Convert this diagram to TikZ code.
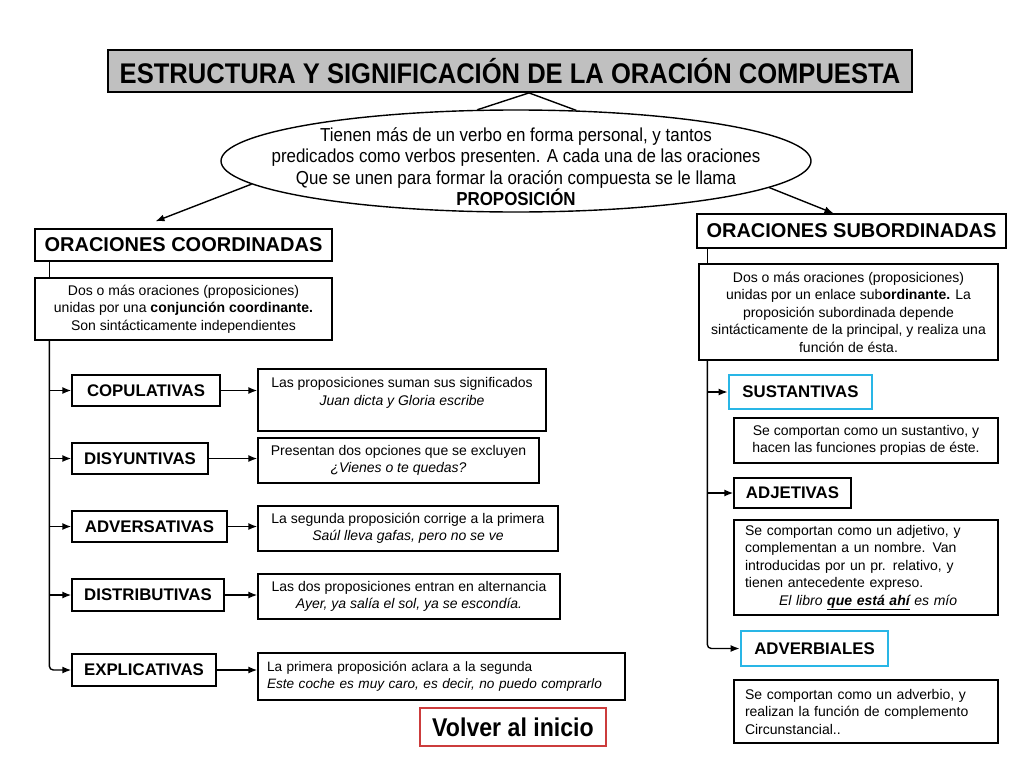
\documentclass[tikz,border=0pt]{standalone}
\usepackage{fontspec}
\setmainfont{Liberation Sans}
\newfontfamily\narrowfont[FakeStretch=0.9]{Liberation Sans}
\usetikzlibrary{arrows.meta,positioning,calc,shapes.geometric}
\definecolor{titgris}{RGB}{192,192,192}
\definecolor{celeste}{RGB}{41,182,230}
\definecolor{rojo}{RGB}{204,60,60}
\newcommand{\fs}[2]{\fontsize{#1}{#2}\selectfont}

\begin{document}
\begin{tikzpicture}[x=1pt, y=-1pt, line width=1.4pt, >={Latex[length=9pt,width=7pt]},
    titulo/.style={draw, fill=titgris, line width=1.8pt, inner sep=0pt, font=\narrowfont\bfseries\fs{28.4}{32}},
    globo/.style={draw, ellipse, align=center, inner xsep=-37pt, inner ysep=-13pt, font=\narrowfont\fs{18.8}{21.4}},
    cabeza/.style={draw, inner sep=0pt, font=\bfseries\fs{20}{24}},
    explica/.style={draw, align=center, inner sep=0pt, font=\fs{14}{17.5}},
    tipo/.style={draw, inner sep=0pt, font=\bfseries\fs{16.8}{20}},
    marcado/.style={tipo, draw=celeste, line width=2.8pt},
    ejemplo/.style={draw, align=center, inner sep=0pt, font=\fs{14}{17.5}}]
  \useasboundingbox (0,0) rectangle (1024,768);
  % ================================================================ title and definition
  \node[titulo, minimum width=804pt, minimum height=42pt] (titulo) at (510,71) {ESTRUCTURA Y SIGNIFICACIÓN DE LA ORACIÓN COMPUESTA};
  \node[globo, minimum width=590pt, minimum height=102pt] (globo) at (516,161) {\rule{0pt}{25pt}Tienen más de un verbo en forma personal, y tantos\\
     predicados como verbos presenten. A cada una de las oraciones\\
     Que se unen para formar la oración compuesta se le llama\\ \textbf{PROPOSICIÓN}};
  \draw (globo.127) -- ([xshift=19pt]titulo.south) -- (globo.40);
  % ================================================================ coordinadas (left)
  \node[cabeza, minimum width=297pt, minimum height=32pt] (coord) at (183.5,245) {ORACIONES COORDINADAS};
  \node[explica, minimum width=297pt, minimum height=62pt] (coorddef) at (183.5,309) {Dos o más oraciones (proposiciones)\\
     unidas por una \textbf{conjunción coordinante.}\\ Son sintácticamente independientes};
  \node[tipo, minimum width=148pt, minimum height=31pt] (copu) at (146,390.5) {COPULATIVAS};
  \node[tipo, minimum width=136pt, minimum height=31pt] (disy) at (140,458.5) {DISYUNTIVAS};
  \node[tipo, minimum width=155pt, minimum height=31pt] (adve) at (149.5,526.5) {ADVERSATIVAS};
  \node[tipo, minimum width=152pt, minimum height=32pt] (dist) at (148,595) {DISTRIBUTIVAS};
  \node[tipo, minimum width=144pt, minimum height=32pt] (expl) at (144,670) {EXPLICATIVAS};
  \node[ejemplo, minimum width=288pt, minimum height=62pt] (ejcopu) at (402,400) {Las proposiciones suman sus significados\\
     \textit{Juan dicta y Gloria escribe}\\ \mbox{}};
  \node[ejemplo, minimum width=281pt, minimum height=45pt] (ejdisy) at (398.5,460.5) {Presentan dos opciones que se excluyen\\
     \textit{¿Vienes o te quedas?}};
  \node[ejemplo, minimum width=300pt, minimum height=45pt] (ejadve) at (408,528.5) {La segunda proposición corrige a la primera\\
     \textit{Saúl lleva gafas, pero no se ve}};
  \node[ejemplo, minimum width=302pt, minimum height=45pt] (ejdist) at (409,596.5) {Las dos proposiciones entran en alternancia\\
     \textit{Ayer, ya salía el sol, ya se escondía.}};
  \node[ejemplo, align=left, text width=349pt, inner xsep=9pt, minimum height=47pt, font=\fs{13.6}{17.5}] (ejexpl) at (441.5,676.5) {La primera proposición aclara a la segunda\\
     \textit{Este coche es muy caro, es decir, no puedo comprarlo}};
  \coordinate (troncoiz) at ([xshift=15pt]coorddef.south west);
  \draw ([xshift=15pt]coord.south west) -- ([xshift=15pt]coorddef.north west);
  \draw[->, rounded corners=4pt] (troncoiz) |- (expl.west);
  \foreach \k in {copu,disy,adve,dist}
    \draw[->] (troncoiz |- \k.west) -- (\k.west);
  \foreach \k in {copu,disy,adve,dist,expl}
    \draw[->] (\k.east) -- (\k.east -| ej\k.west);
  % ================================================================ subordinadas (right)
  \node[cabeza, minimum width=309pt, minimum height=34pt] (subo) at (851.5,231) {ORACIONES SUBORDINADAS};
  \node[explica, minimum width=299pt, minimum height=96pt] (subodef) at (848.5,312) {Dos o más oraciones (proposiciones)\\
     unidas por un enlace sub\textbf{ordinante.} La\\ proposición subordinada depende\\
     sintácticamente de la principal, y realiza una\\ función de ésta.};
  \node[marcado, minimum width=143pt, minimum height=34pt] (sust) at (800.5,392) {SUSTANTIVAS};
  \node[explica, minimum width=264pt, minimum height=45pt] (sustdef) at (866,440.5) {Se comportan como un sustantivo, y\\
     hacen las funciones propias de éste.};
  \node[tipo, minimum width=117pt, minimum height=30pt] (adje) at (792.5,493) {ADJETIVAS};
  \node[explica, align=left, text width=242pt, inner xsep=11pt, minimum height=95pt] (adjedef) at (866,567.5) {Se comportan como un adjetivo, y\\
     complementan a un nombre. Van\\ introducidas por un pr. relativo, y\\ tienen antecedente expreso.\\
     \hspace*{34pt}\textit{El libro \underline{\textbf{que está ahí}} es mío}};
  \node[marcado, minimum width=147pt, minimum height=35pt] (adve2) at (814.5,648.5) {ADVERBIALES};
  \node[explica, align=left, text width=242pt, inner xsep=11pt, minimum height=63pt] (advedef) at (866,711.5) {Se comportan como un adverbio, y\\
     realizan la función de complemento\\ Circunstancial..};
  \coordinate (troncode) at ([xshift=9pt]subodef.south west);
  \draw ([xshift=11pt]subo.south west) -- ([xshift=9pt]subodef.north west);
  \draw[->, rounded corners=4pt] (troncode) |- (adve2.west);
  \foreach \k in {sust,adje}
    \draw[->] (troncode |- \k.west) -- (\k.west);
  % ================================================================ links from the definition
  \draw[->] (globo.185) -- ([xshift=-28pt,yshift=7pt]coord.north);
  \draw[->] (globo.354) -- ([xshift=-18pt]subo.north);
  % back button
  \node[draw=rojo, line width=1.4pt, inner sep=0pt, minimum width=186pt, minimum height=38pt,
     font=\narrowfont\bfseries\fs{25.7}{28}] (volver) at (513,727) {Volver al inicio};
\end{tikzpicture}
\end{document}
